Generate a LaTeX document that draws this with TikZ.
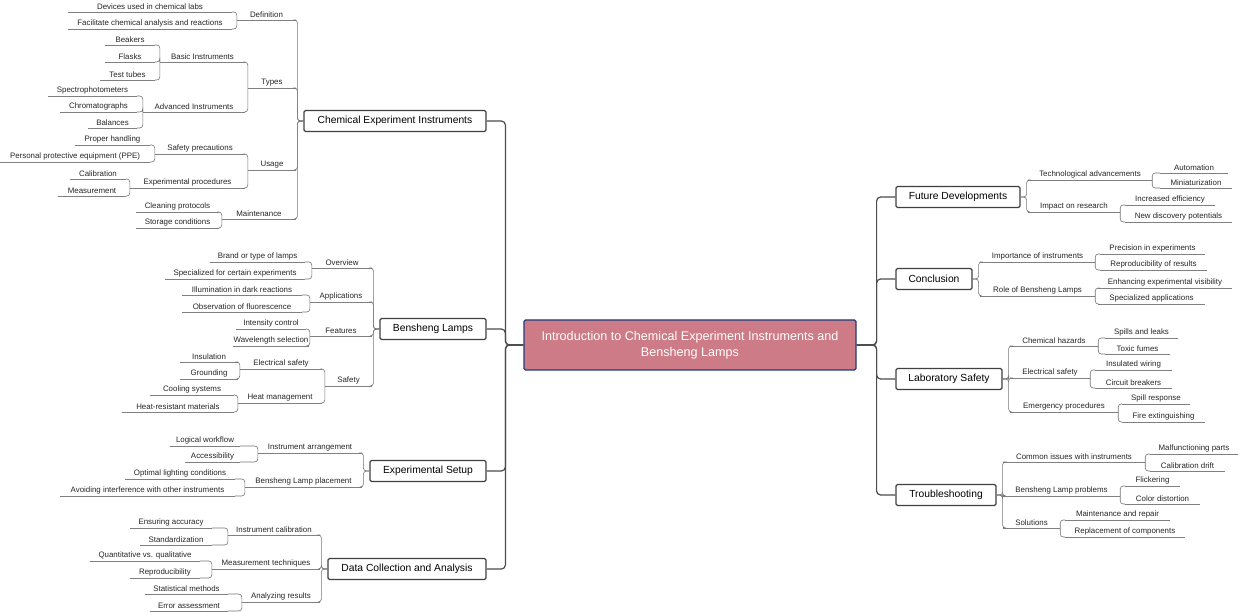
\documentclass[tikz,border=0pt]{standalone}
\usepackage{fontspec}
\setmainfont{Liberation Sans}
\usetikzlibrary{calc}
\definecolor{ctr}{HTML}{CD7B86}
\definecolor{ctrb}{HTML}{1F3A7A}
\tikzset{
  lf/.style={inner xsep=0pt, inner ysep=2pt, anchor=south, font=\fontsize{7.9}{9}\selectfont, text=black!85},
  ln/.style={draw=black!50, line width=0.6pt},
  cn/.style={draw=black!55, line width=0.6pt, rounded corners=3pt},
  mb/.style={draw=black!75, line width=1.2pt, rounded corners=1.5pt, fill=white, minimum height=21pt, inner sep=0pt, font=\fontsize{10.3}{12}\selectfont},
  mc/.style={draw=black!70, line width=1.2pt, rounded corners=4pt},
}
\newcommand\lf[5]{\node[lf, minimum width={(#3-#2)*1pt}] (#1) at ({(#2+#3)/2},#4) {#5};
  \draw[ln] (#1.south west) -- (#1.south east);}
\newcommand\conL[2]{\draw[cn] (#2.south east) -| (#1.south west);}
\newcommand\conR[2]{\draw[cn] (#2.south west) -| (#1.south east);}
\newcommand\conLB[2]{\draw[cn] (#2.south east) -| ($(#1.west)+(-6,0)$) -- (#1.west);}
\newcommand\conRB[2]{\draw[cn] (#2.south west) -| ($(#1.east)+(6,0)$) -- (#1.east);}
\begin{document}
\begin{tikzpicture}[x=1pt,y=-1pt]
\useasboundingbox (0,0) rectangle (1240,612);
% center
\node[draw=ctrb, line width=1.2pt, fill=ctr, rounded corners=1.5pt, minimum width=332pt, minimum height=50pt, align=center, text=white, font=\fontsize{12.6}{16}\selectfont] (C) at (690,345) {Introduction to Chemical Experiment Instruments and\\Bensheng Lamps};
% main boxes
\node[mb, minimum width=182pt] (A) at (395,121) {Chemical Experiment Instruments};
\node[mb, minimum width=106pt] (B) at (433,329) {Bensheng Lamps};
\node[mb, minimum width=116pt] (E) at (428,471) {Experimental Setup};
\node[mb, minimum width=158pt] (D) at (407,569) {Data Collection and Analysis};
\node[mb, minimum width=124pt] (F) at (958,197) {Future Developments};
\node[mb, minimum width=76pt] (K) at (934,279) {Conclusion};
\node[mb, minimum width=106pt] (L) at (949,379) {Laboratory Safety};
\node[mb, minimum width=100pt] (T) at (946,495) {Troubleshooting};
\foreach \n in {A,B,E,D} \draw[mc] (C.west) -- ++(-18,0) |- (\n.east);
\foreach \n in {F,K,L,T} \draw[mc] (C.east) -- ++(20,0) |- (\n.west);
% ---- A subtree
\lf{a1}{237}{296}{20}{Definition}
\lf{a11}{68}{232}{12}{Devices used in chemical labs}
\lf{a12}{68}{232}{29}{Facilitate chemical analysis and reactions}
\lf{a2}{248}{296}{88}{Types}
\lf{a21}{160}{245}{62}{Basic Instruments}
\lf{a211}{105}{155}{45}{Beakers}
\lf{a212}{105}{155}{62}{Flasks}
\lf{a213}{100}{155}{80}{Test tubes}
\lf{a22}{143}{245}{112}{Advanced Instruments}
\lf{a221}{48}{137}{96}{Spectrophotometers}
\lf{a222}{60}{137}{112}{Chromatographs}
\lf{a223}{88}{137}{128}{Balances}
\lf{a3}{248}{296}{170}{Usage}
\lf{a31}{155}{245}{154}{Safety precautions}
\lf{a311}{75}{150}{145}{Proper handling}
\lf{a312}{0}{150}{162}{Personal protective equipment (PPE)}
\lf{a32}{130}{245}{188}{Experimental procedures}
\lf{a321}{70}{126}{179}{Calibration}
\lf{a322}{58}{126}{196}{Measurement}
\lf{a4}{222}{296}{219}{Maintenance}
\lf{a41}{136}{219}{212}{Cleaning protocols}
\lf{a42}{136}{219}{228}{Storage conditions}
\conLB{A}{a1}\conLB{A}{a2}\conLB{A}{a3}\conLB{A}{a4}
\conL{a1}{a11}\conL{a1}{a12}
\conL{a2}{a21}\conL{a2}{a22}
\conL{a21}{a211}\conL{a21}{a212}\conL{a21}{a213}
\conL{a22}{a221}\conL{a22}{a222}\conL{a22}{a223}
\conL{a3}{a31}\conL{a3}{a32}
\conL{a31}{a311}\conL{a31}{a312}
\conL{a32}{a321}\conL{a32}{a322}
\conL{a4}{a41}\conL{a4}{a42}
% ---- B subtree
\lf{b1}{312}{372}{268}{Overview}
\lf{b11}{210}{305}{262}{Brand or type of lamps}
\lf{b12}{165}{305}{279}{Specialized for certain experiments}
\lf{b2}{310}{372}{302}{Applications}
\lf{b21}{182}{302}{295}{Illumination in dark reactions}
\lf{b22}{182}{302}{312}{Observation of fluorescence}
\lf{b3}{310}{372}{336}{Features}
\lf{b31}{236}{306}{329}{Intensity control}
\lf{b32}{236}{306}{346}{Wavelength selection}
\lf{b4}{325}{372}{386}{Safety}
\lf{b41}{240}{322}{369}{Electrical safety}
\lf{b411}{180}{238}{362}{Insulation}
\lf{b412}{180}{238}{379}{Grounding}
\lf{b42}{238}{322}{403}{Heat management}
\lf{b421}{150}{234}{395}{Cooling systems}
\lf{b422}{122}{234}{412}{Heat-resistant materials}
\conLB{B}{b1}\conLB{B}{b2}\conLB{B}{b3}\conLB{B}{b4}
\conL{b1}{b11}\conL{b1}{b12}
\conL{b2}{b21}\conL{b2}{b22}
\conL{b3}{b31}\conL{b3}{b32}
\conL{b4}{b41}\conL{b4}{b42}
\conL{b41}{b411}\conL{b41}{b412}
\conL{b42}{b421}\conL{b42}{b422}
% ---- E subtree
\lf{e1}{258}{362}{453}{Instrument arrangement}
\lf{e11}{170}{240}{446}{Logical workflow}
\lf{e12}{185}{240}{462}{Accessibility}
\lf{e2}{245}{362}{487}{Bensheng Lamp placement}
\lf{e21}{125}{235}{479}{Optimal lighting conditions}
\lf{e22}{60}{235}{496}{Avoiding interference with other instruments}
\conLB{E}{e1}\conLB{E}{e2}
\conL{e1}{e11}\conL{e1}{e12}
\conL{e2}{e21}\conL{e2}{e22}
% ---- D subtree
\lf{d1}{228}{320}{535}{Instrument calibration}
\lf{d11}{130}{212}{528}{Ensuring accuracy}
\lf{d12}{140}{212}{545}{Standardization}
\lf{d2}{212}{320}{569}{Measurement techniques}
\lf{d21}{90}{200}{561}{Quantitative vs. qualitative}
\lf{d22}{130}{200}{578}{Reproducibility}
\lf{d3}{242}{320}{602}{Analyzing results}
\lf{d31}{145}{228}{594}{Statistical methods}
\lf{d32}{150}{228}{611}{Error assessment}
\conLB{D}{d1}\conLB{D}{d2}\conLB{D}{d3}
\conL{d1}{d11}\conL{d1}{d12}
\conL{d2}{d21}\conL{d2}{d22}
\conL{d3}{d31}\conL{d3}{d32}
% ---- F subtree
\lf{f1}{1028}{1152}{180}{Technological advancements}
\lf{f11}{1160}{1228}{173}{Automation}
\lf{f12}{1160}{1232}{188}{Miniaturization}
\lf{f2}{1028}{1120}{212}{Impact on research}
\lf{f21}{1125}{1215}{205}{Increased efficiency}
\lf{f22}{1125}{1232}{222}{New discovery potentials}
\conRB{F}{f1}\conRB{F}{f2}
\conR{f1}{f11}\conR{f1}{f12}
\conR{f2}{f21}\conR{f2}{f22}
% ---- K subtree
\lf{k1}{980}{1095}{262}{Importance of instruments}
\lf{k11}{1100}{1205}{254}{Precision in experiments}
\lf{k12}{1100}{1207}{270}{Reproducibility of results}
\lf{k2}{980}{1095}{296}{Role of Bensheng Lamps}
\lf{k21}{1098}{1232}{288}{Enhancing experimental visibility}
\lf{k22}{1098}{1205}{304}{Specialized applications}
\conRB{K}{k1}\conRB{K}{k2}
\conR{k1}{k11}\conR{k1}{k12}
\conR{k2}{k21}\conR{k2}{k22}
% ---- L subtree
\lf{l1}{1010}{1098}{346}{Chemical hazards}
\lf{l11}{1105}{1178}{338}{Spills and leaks}
\lf{l12}{1105}{1170}{354}{Toxic fumes}
\lf{l2}{1010}{1090}{378}{Electrical safety}
\lf{l21}{1095}{1172}{370}{Insulated wiring}
\lf{l22}{1095}{1172}{388}{Circuit breakers}
\lf{l3}{1010}{1118}{412}{Emergency procedures}
\lf{l31}{1122}{1190}{404}{Spill response}
\lf{l32}{1122}{1205}{422}{Fire extinguishing}
\conRB{L}{l1}\conRB{L}{l2}\conRB{L}{l3}
\conR{l1}{l11}\conR{l1}{l12}
\conR{l2}{l21}\conR{l2}{l22}
\conR{l3}{l31}\conR{l3}{l32}
% ---- T subtree
\lf{t1}{1003}{1145}{462}{Common issues with instruments}
\lf{t11}{1150}{1238}{454}{Malfunctioning parts}
\lf{t12}{1150}{1225}{471}{Calibration drift}
\lf{t2}{1003}{1120}{496}{Bensheng Lamp problems}
\lf{t21}{1125}{1180}{486}{Flickering}
\lf{t22}{1125}{1200}{504}{Color distortion}
\lf{t3}{1003}{1060}{528}{Solutions}
\lf{t31}{1065}{1170}{520}{Maintenance and repair}
\lf{t32}{1065}{1185}{537}{Replacement of components}
\conRB{T}{t1}\conRB{T}{t2}\conRB{T}{t3}
\conR{t1}{t11}\conR{t1}{t12}
\conR{t2}{t21}\conR{t2}{t22}
\conR{t3}{t31}\conR{t3}{t32}
\end{tikzpicture}
\end{document}
